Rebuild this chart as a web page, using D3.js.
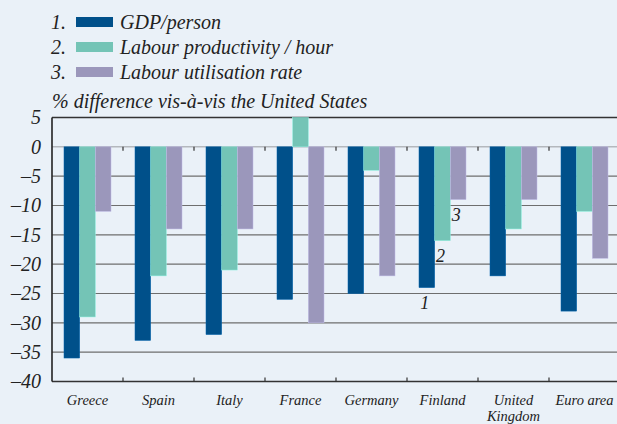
<!DOCTYPE html>
<html>
<head>
<meta charset="utf-8">
<script src="https://cdn.jsdelivr.net/npm/d3@7"></script>
<style>
  html, body { margin: 0; padding: 0; background: #eaf1f8; }
  svg { display: block; }
</style>
</head>
<body>
<script>
;(() => {
    var width = 617, height = 424;
    var FONT = 'Liberation Serif';

    // data
    var countries = ['Greece', 'Spain', 'Italy', 'France', 'Germany', 'Finland', 'United Kingdom', 'Euro area'];
    var seriesNames = ['GDP/person', 'Labour productivity / hour', 'Labour utilisation rate'];
    var gdpPerson = [-36, -33, -32, -26, -25, -24, -22, -28];
    var labourProductivity = [-29, -22, -21, 5, -4, -16, -14, -11];
    var labourUtilisation = [-11, -14, -14, -30, -22, -9, -9, -19];
    var yTicks = [5, 0, -5, -10, -15, -20, -25, -30, -35, -40];
    var colors = ['#00508a', '#74c4b6', '#9b97bb'];

    var series = [gdpPerson, labourProductivity, labourUtilisation];

    var margin = { left: 52, right: -3, top: 117.5, bottom: 42.5 };

    var svg = d3.select('body')
        .append('svg')
        .attr('width', width)
        .attr('height', height)
        .attr('font-family', FONT)
        .attr('font-style', 'italic');

    var x0 = d3.scaleBand()
        .domain(countries)
        .range([margin.left, width - margin.right])
        .paddingInner(0.338)
        .paddingOuter(0.169);
    var x1 = d3.scaleBand()
        .domain(d3.range(series.length))
        .range([0, x0.bandwidth()]);
    var y = d3.scaleLinear()
        .domain([-40, 5])
        .range([height - margin.bottom, margin.top]);

    function txt(sel) {
        return sel.attr('font-family', FONT).attr('font-style', 'italic').attr('fill', '#222');
    }

    // gridlines
    svg.append('g')
        .selectAll('line')
        .data(yTicks.filter(d => d !== 0))
        .enter()
        .append('line')
        .attr('x1', margin.left)
        .attr('x2', width)
        .attr('y1', d => y(d))
        .attr('y2', d => y(d))
        .attr('stroke', d => (d === 5 || d === -40) ? '#333' : '#6e6e6e')
        .attr('stroke-width', d => (d === 5 || d === -40) ? 1.6 : 1.2);

    svg.append('line')
        .attr('x1', margin.left)
        .attr('x2', width)
        .attr('y1', y(0))
        .attr('y2', y(0))
        .attr('stroke', '#b4b8bd')
        .attr('stroke-width', 1.5);

    // bars
    var groups = svg.selectAll('g.group')
        .data(countries)
        .enter()
        .append('g')
        .classed('group', true)
        .attr('transform', d => 'translate(' + x0(d) + ',0)');

    groups.selectAll('rect')
        .data((d, i) => series.map((s, k) => ({ k: k, v: s[i] })))
        .enter()
        .append('rect')
        .attr('x', d => x1(d.k))
        .attr('width', x1.bandwidth())
        .attr('y', d => y(Math.max(0, d.v)))
        .attr('height', d => Math.abs(y(d.v) - y(0)))
        .attr('fill', d => colors[d.k])
        .attr('stroke', d => d3.color(colors[d.k]).brighter(0.6))
        .attr('stroke-width', 0.5);

    // group boundary ticks
    var bounds = countries.slice(1).map(c => x0(c) - x0.step() * x0.paddingInner() / 2);
    svg.append('g')
        .selectAll('line')
        .data(bounds)
        .enter()
        .append('line')
        .attr('x1', d => d).attr('x2', d => d)
        .attr('y1', y(0)).attr('y2', y(0) + 4)
        .attr('stroke', '#333').attr('stroke-width', 1.2);
    svg.append('g')
        .selectAll('line')
        .data(bounds)
        .enter()
        .append('line')
        .attr('x1', d => d).attr('x2', d => d)
        .attr('y1', y(-40)).attr('y2', y(-40) - 4)
        .attr('stroke', '#333').attr('stroke-width', 1.2);

    // left axis
    svg.append('line')
        .attr('x1', margin.left).attr('x2', margin.left)
        .attr('y1', y(5)).attr('y2', y(-40))
        .attr('stroke', '#222').attr('stroke-width', 1.6);

    svg.append('g')
        .selectAll('text')
        .data(yTicks)
        .enter()
        .append('text')
        .call(txt)
        .attr('x', 41)
        .attr('y', d => y(d))
        .attr('dy', '0.34em')
        .attr('text-anchor', 'end')
        .attr('font-size', 20)
        .text(d => d < 0 ? '\u2013' + Math.abs(d) : d);

    // category labels
    var cx = d => x0(d) + x0.bandwidth() / 2;
    var catLabels = svg.append('g')
        .selectAll('text')
        .data(countries)
        .enter()
        .append('text')
        .call(txt)
        .attr('x', cx)
        .attr('y', 405)
        .attr('text-anchor', 'middle')
        .attr('font-size', 14.5);
    catLabels.each(function(d) {
        var words = d === 'United Kingdom' ? ['United', 'Kingdom'] : [d];
        d3.select(this).selectAll('tspan')
            .data(words)
            .enter()
            .append('tspan')
            .attr('x', cx(d))
            .attr('dy', (w, i) => i ? 16 : 0)
            .text(w => w);
    });

    // Finland bar annotations
    var fin = countries.indexOf('Finland');
    svg.append('g')
        .selectAll('text')
        .data(series.map((s, k) => ({ k: k, v: s[fin] })))
        .enter()
        .append('text')
        .call(txt)
        .attr('x', d => x0('Finland') + x1(d.k) + x1.bandwidth() / 2 - 2)
        .attr('y', d => y(d.v) + 21)
        .attr('text-anchor', 'middle')
        .attr('font-size', 18)
        .text(d => d.k + 1);

    // legend
    var legend = svg.append('g')
        .selectAll('g')
        .data(seriesNames)
        .enter()
        .append('g')
        .attr('transform', (d, i) => 'translate(0,' + (22 + i * 25) + ')');
    legend.append('text')
        .call(txt)
        .attr('x', 51)
        .attr('dy', '0.34em')
        .attr('font-size', 20)
        .text((d, i) => (i + 1) + '.');
    legend.append('rect')
        .attr('x', 76)
        .attr('y', -5)
        .attr('width', 37)
        .attr('height', 10)
        .attr('fill', (d, i) => colors[i]);
    legend.append('text')
        .call(txt)
        .attr('x', 120)
        .attr('dy', '0.34em')
        .attr('font-size', 20)
        .text(d => d);

    svg.append('text')
        .call(txt)
        .attr('x', 52)
        .attr('y', 108)
        .attr('font-size', 20)
        .text('% difference vis-\u00e0-vis the United States');
})();
</script>
</body>
</html>
